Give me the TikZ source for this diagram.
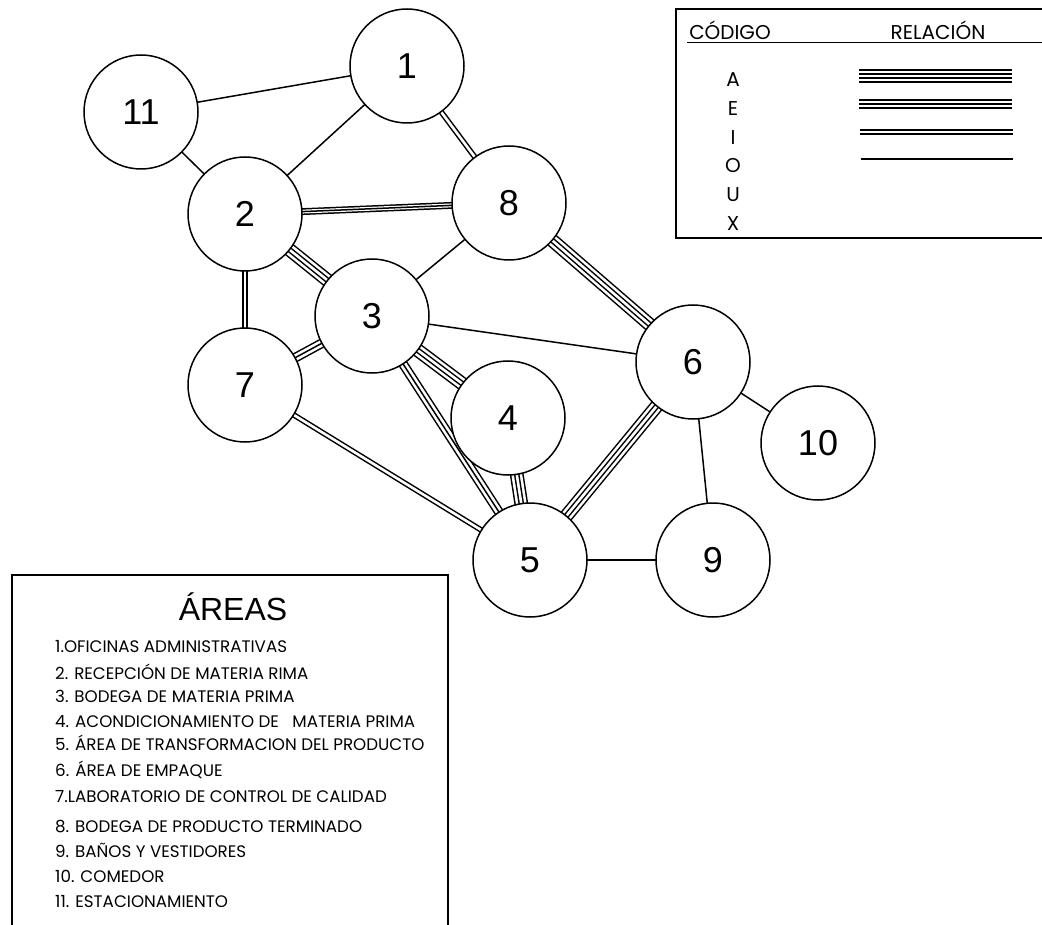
\documentclass[tikz,border=0pt]{standalone}
\usepackage{fontspec}
\setmainfont{Liberation Sans}
\newfontfamily\listfont{Poppins}
\usetikzlibrary{calc}
\pgfdeclarelayer{background}
\pgfsetlayers{background,main}

\tikzset{
  area/.style={circle, draw, line width=1.5pt, fill=white, minimum size=114pt,
    inner sep=0pt, font=\fontsize{36}{36}\selectfont},
  % relationship lines: O = 1 line, I = 2, E = 3, A = 4
  relO/.style={draw, line width=1.5pt},
  relI/.style={draw, line width=1.5pt, double, double distance=2.6pt},
  relE/.style={draw, line width=9.7pt,
    postaction={draw=white, line width=6.7pt},
    postaction={draw=black, line width=1.5pt}},
  relEtight/.style={draw, line width=6.9pt,
    postaction={draw=white, line width=3.9pt},
    postaction={draw=black, line width=1.5pt}},
  relA/.style={draw, line width=13.8pt,
    postaction={draw=white, line width=10.8pt},
    postaction={draw=black, line width=5.6pt},
    postaction={draw=white, line width=2.6pt}},
  listitem/.style={anchor=base west, inner sep=0pt, font=\listfont\fontsize{16.7}{16.7}\selectfont},
  code/.style={anchor=base, inner sep=0pt, font=\listfont\fontsize{20}{20}\selectfont},
  frame/.style={line width=1.1pt},
}

\begin{document}
\begin{tikzpicture}[x=1pt, y=-1pt]
\useasboundingbox (0,0) rectangle (1042,925);

% areas
\node[area] (n1)  at (407, 66)  {1};
\node[area] (n11) at (141, 112) {11};
\node[area] (n2)  at (245, 214) {2};
\node[area] (n8)  at (509, 203) {8};
\node[area] (n3)  at (372, 316) {3};
\node[area] (n7)  at (245, 385) {7};
\node[area] (n4)  at (508, 418) {4};
\node[area] (n5)  at (530, 560) {5};
\node[area] (n6)  at (693, 362) {6};
\node[area] (n10) at (818, 443) {10};
\node[area] (n9)  at (713, 560) {9};

% relationships, drawn behind the white-filled circles
\begin{pgfonlayer}{background}
  \path[relO] (n1.center) -- (n11.center);
  \path[relO] (n1.center) -- (n2.center);
  \path[relO] (n11.center) -- (n2.center);
  \path[relO] (n3.center) -- (n8.center);
  \path[relO] (n3.center) -- (n6.center);
  \path[relO] (n6.center) -- (n9.center);
  \path[relO] (n6.center) -- (n10.center);
  \path[relO] (n5.center) -- (n9.center);
  \path[relI] (n1.center) -- (n8.center);
  \path[relI] (n2.center) -- (n7.center);
  \path[relI] (n7.center) -- (n5.center);
  \path[relEtight] (n2.center) -- (n8.center);
  \path[relE] (n3.center) -- (n7.center);
  \path[relE] (n3.center) -- (n5.center);
  \path[relA] (n2.center) -- (n3.center);
  \path[relA] (n3.center) -- (n4.center);
  \path[relA] (n4.center) -- (n5.center);
  \path[relA] (n6.center) -- (n5.center);
  \path[relA] (n8.center) -- (n6.center);
\end{pgfonlayer}

% code / relationship key
\draw[frame] (1042,9) -- (676,9) -- (676,238) -- (1042,238);
\draw[line width=2pt] (676,9) -- (676,238);
\draw[line width=1pt] (687,43) -- (1042,43);
\node[code] (hcode) at (730,40) {CÓDIGO};
\node[code] (hrel)  at (938,40) {RELACIÓN};
\node[code] (kA) at (733,87)  {A};
\node[code] (kE) at (733,116) {E};
\node[code] (kI) at (733,145) {I};
\node[code] (kO) at (733,173) {O};
\node[code] (kU) at (733,202) {U};
\node[code] (kX) at (733,231) {X};
\coordinate (aL) at (859,76);  \coordinate (aR) at (1012,76);
\coordinate (eL) at (859,104); \coordinate (eR) at (1012,104);
\coordinate (iL) at (860,132); \coordinate (iR) at (1013,132);
\coordinate (oL) at (861,159); \coordinate (oR) at (1013,159);
\path[relA] (aL) -- (aR);
\path[relE] (eL) -- (eR);
\path[relI] (iL) -- (iR);
\path[relO] (oL) -- (oR);

% list of areas
\draw[frame] (12,925) -- (12,575) -- (448,575) -- (448,925);
\draw[line width=2pt] (12,575) -- (12,925);
\node[anchor=base, inner sep=0pt, font=\fontsize{32}{32}\selectfont] (title) at (233,620) {ÁREAS};
\node[listitem] (l1)  at (55,652) {1.OFICINAS ADMINISTRATIVAS};
\node[listitem] (l2)  at (55,679) {2. RECEPCIÓN DE MATERIA RIMA};
\node[listitem] (l3)  at (55,702) {3. BODEGA DE MATERIA PRIMA};
\node[listitem] (l4)  at (55,727) {4. ACONDICIONAMIENTO DE \ \ MATERIA PRIMA};
\node[listitem] (l5)  at (55,750) {5. ÁREA DE TRANSFORMACION DEL PRODUCTO};
\node[listitem] (l6)  at (55,776) {6. ÁREA DE EMPAQUE};
\node[listitem] (l7)  at (55,802) {7.LABORATORIO DE CONTROL DE CALIDAD};
\node[listitem] (l8)  at (55,832) {8. BODEGA DE PRODUCTO TERMINADO};
\node[listitem] (l9)  at (55,857) {9. BAÑOS Y VESTIDORES};
\node[listitem] (l10) at (55,882) {10. COMEDOR};
\node[listitem] (l11) at (55,907) {11. ESTACIONAMIENTO};
\end{tikzpicture}
\end{document}
